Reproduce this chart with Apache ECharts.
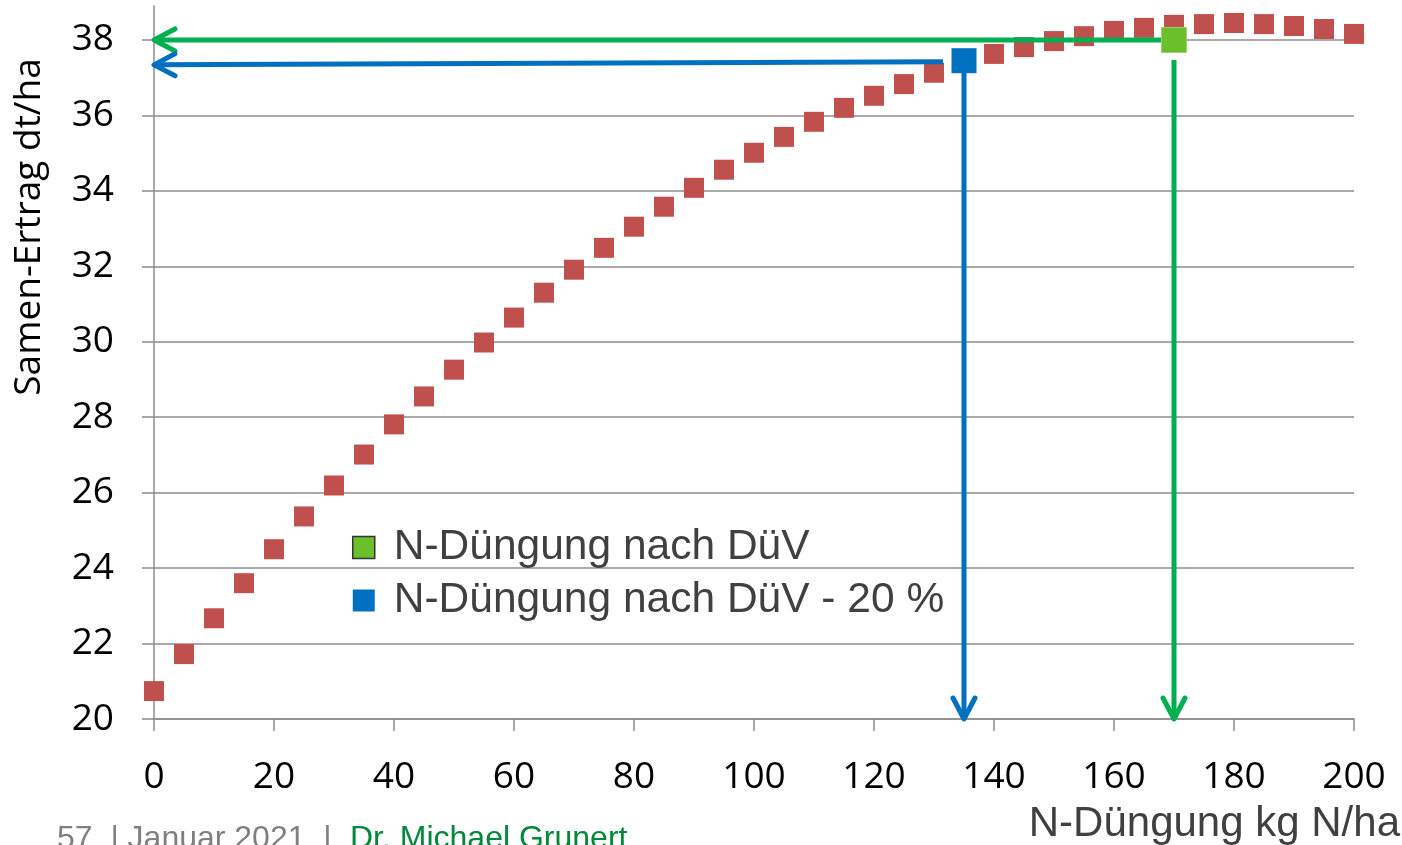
<!DOCTYPE html>
<html>
<head>
<meta charset="utf-8">
<script src="https://cdn.jsdelivr.net/npm/echarts@6/dist/echarts.min.js"></script>
<style>
  html, body { margin: 0; padding: 0; background: #ffffff; }
  #chart { width: 1402px; height: 845px; }
</style>
</head>
<body>
<div id="chart"></div>
<script>
// N rate (kg N/ha) and seed yield (dt/ha) of the response curve
const nRates = [0, 5, 10, 15, 20, 25, 30, 35, 40, 45, 50, 55, 60, 65, 70, 75, 80, 85, 90, 95,
  100, 105, 110, 115, 120, 125, 130, 135, 140, 145, 150, 155, 160, 165, 170, 175, 180, 185, 190, 195, 200];
const yieldDt = [20.74, 21.72, 22.67, 23.60, 24.50, 25.37, 26.19, 27.01, 27.81, 28.55,
  29.26, 29.98, 30.64, 31.30, 31.91, 32.49, 33.05, 33.58, 34.08, 34.56,
  35.01, 35.43, 35.83, 36.20, 36.52, 36.83, 37.13, 37.39, 37.63, 37.81,
  37.97, 38.10, 38.24, 38.32, 38.40, 38.42, 38.45, 38.42, 38.37, 38.29, 38.16];

// Highlighted rates
const duvName = 'N-Düngung nach DüV';
const duvPoint = [170, 38.0];
const reducedName = 'N-Düngung nach DüV - 20 %';
const reducedPoint = [135, 37.45];

// Read-off arrows: [fromX, fromY, toX, toY]
const arrowLines = [
  [170, 38.0, 0, 38.0],
  [170, 37.47, 170, 20],
  [131.5, 37.42, 0, 37.34],
  [135, 37.2, 135, 20]
];
const arrowColors = ['#00b050', '#00b050', '#0070c0', '#0070c0'];

// Axis ticks
const xTicks = [0, 20, 40, 60, 80, 100, 120, 140, 160, 180, 200];
const yTicks = [20, 22, 24, 26, 28, 30, 32, 34, 36, 38];

const chart = echarts.init(document.getElementById('chart'), null, { renderer: 'canvas' });

const axisGrey = '#8c8c8c';

function renderArrow(params, api) {
  const p1 = api.coord([api.value(0), api.value(1)]);
  const p2 = api.coord([api.value(2), api.value(3)]);
  const dx = p2[0] - p1[0], dy = p2[1] - p1[1];
  const len = Math.sqrt(dx * dx + dy * dy) || 1;
  const ux = dx / len, uy = dy / len;
  const back = 21, side = 11;
  const a = [p2[0] - ux * back - uy * side, p2[1] - uy * back + ux * side];
  const b = [p2[0] - ux * back + uy * side, p2[1] - uy * back - ux * side];
  const color = arrowColors[params.dataIndex];
  return {
    type: 'group',
    children: [
      { type: 'line', shape: { x1: p1[0], y1: p1[1], x2: p2[0] - ux * 1.5, y2: p2[1] - uy * 1.5 },
        style: { stroke: color, lineWidth: 5, lineCap: 'butt' } },
      { type: 'polyline', shape: { points: [a, p2, b] },
        style: { stroke: color, fill: null, lineWidth: 5, lineCap: 'round', lineJoin: 'round' } }
    ]
  };
}

const option = {
  backgroundColor: '#ffffff',
  animation: false,
  grid: { left: 154, right: 48, top: 6, bottom: 126, containLabel: false },
  legend: {
    orient: 'vertical',
    left: 347,
    top: 521,
    itemWidth: 22,
    itemHeight: 22,
    itemGap: 10,
    textStyle: { fontFamily: 'Liberation Sans, Arial, sans-serif', fontSize: 42.5, color: '#404040', padding: [0, 0, 0, 14] },
    data: [
      { name: duvName, icon: 'rect', itemStyle: { color: '#6abf2a', borderColor: '#333333', borderWidth: 1.5, opacity: 1 } },
      { name: reducedName, icon: 'rect', itemStyle: { color: '#0070c0', opacity: 1 } }
    ]
  },
  xAxis: {
    type: 'value',
    min: 0, max: 200, interval: 20,
    axisLine: { show: true, lineStyle: { color: axisGrey, width: 1.5 } },
    axisTick: { show: true, inside: false, length: 12, lineStyle: { color: axisGrey, width: 1.5 } },
    axisLabel: { margin: 40, fontFamily: 'Open Sans, sans-serif', fontSize: 37, color: '#000000',
      customValues: xTicks },
    splitLine: { show: false }
  },
  yAxis: {
    type: 'value',
    min: 20, max: 38.9, interval: 2,
    axisLine: { show: true, lineStyle: { color: axisGrey, width: 1.5 } },
    axisTick: { show: true, inside: false, length: 12, lineStyle: { color: axisGrey, width: 1.5 },
      customValues: yTicks },
    axisLabel: { margin: 40, fontFamily: 'Open Sans, sans-serif', fontSize: 37, color: '#000000',
      customValues: yTicks },
    splitLine: { show: true, lineStyle: { color: axisGrey, width: 1.5 } }
  },
  series: [
    {
      name: 'Samen-Ertrag',
      type: 'scatter',
      symbol: 'rect',
      symbolSize: 20,
      itemStyle: { color: '#c0504d', opacity: 1 },
      data: nRates.map((n, i) => [n, yieldDt[i]]),
      z: 2
    },
    {
      name: 'Pfeile',
      type: 'custom',
      renderItem: renderArrow,
      data: arrowLines,
      z: 3,
      silent: true
    },
    {
      name: reducedName,
      type: 'scatter',
      symbol: 'rect',
      symbolSize: 25,
      itemStyle: { color: '#0070c0', opacity: 1 },
      data: [reducedPoint],
      z: 4
    },
    {
      name: duvName,
      type: 'scatter',
      symbol: 'rect',
      symbolSize: 25,
      itemStyle: { color: '#6abf2a', borderColor: '#9ad46a', borderWidth: 1, opacity: 1 },
      data: [duvPoint],
      z: 4
    }
  ],
  graphic: [
    {
      type: 'text',
      x: 29, y: 227,
      rotation: Math.PI / 2,
      style: { text: 'Samen-Ertrag dt/ha', fontFamily: 'Open Sans, sans-serif', fontSize: 37,
        fill: '#000000', align: 'center', verticalAlign: 'middle' }
    },
    {
      type: 'text',
      right: 2, top: 803,
      style: { text: 'N-Düngung kg N/ha', fontFamily: 'Liberation Sans, Arial, sans-serif', fontSize: 42,
        fill: '#404040' }
    },
    {
      type: 'text',
      left: 57, top: 823,
      style: { text: '57  | Januar 2021  |', fontFamily: 'Liberation Sans, Arial, sans-serif', fontSize: 32,
        fill: '#808080' }
    },
    {
      type: 'text',
      left: 350, top: 823,
      style: { text: 'Dr. Michael Grunert', fontFamily: 'Liberation Sans, Arial, sans-serif', fontSize: 32,
        fill: '#00883a' }
    }
  ]
};

chart.setOption(option);
</script>
</body>
</html>
